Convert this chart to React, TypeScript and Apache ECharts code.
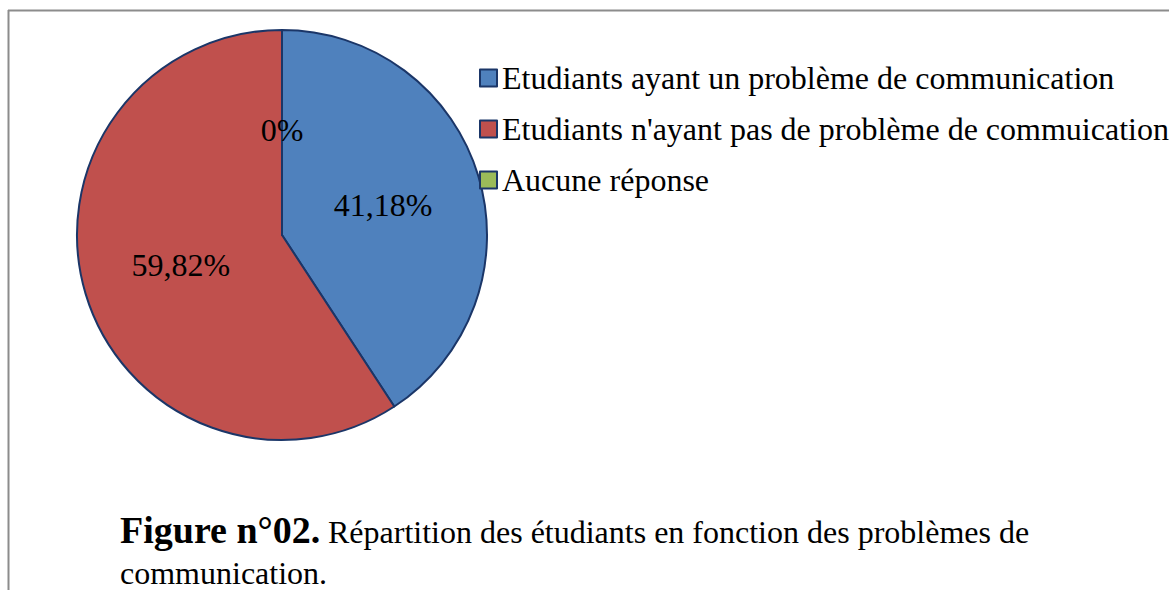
import React, { useEffect, useRef } from "react";
import * as echarts from "echarts";

const categories = [
  "Etudiants ayant un problème de communication",
  "Etudiants n'ayant pas de problème de commuication",
  "Aucune réponse",
];
const values = [41.18, 59.82, 0];
const colors = ["#4F81BD", "#C0504D", "#9BBB59"];
const captionBold = "Figure n°02.";
const captionLine1 = "Répartition des étudiants en fonction des problèmes de";
const captionLine2 = "communication.";

const FONT = "'Liberation Serif', 'Times New Roman', serif";

export default function App() {
  const ref = useRef<HTMLDivElement>(null);
  useEffect(() => {
    if (!ref.current) return;
    const chart = echarts.init(ref.current, null, { renderer: "svg" });
    chart.setOption({
      animation: false,
      backgroundColor: "#ffffff",
      legend: {
        orient: "vertical",
        left: 474,
        top: 57,
        itemWidth: 17,
        itemHeight: 17,
        itemGap: 19,
        icon: "rect",
        data: categories,
        textStyle: { fontFamily: FONT, fontSize: 32, color: "#000" },
      },
      series: [
        {
          type: "pie",
          center: [282, 235],
          radius: 205,
          startAngle: 90,
          clockwise: true,
          avoidLabelOverlap: false,
          data: categories.map((name, i) => ({
            name,
            value: values[i],
            itemStyle: { color: colors[i] },
          })),
          itemStyle: { borderColor: "#1B3668", borderWidth: 2 },
          label: {
            show: true,
            position: "inside",
            fontFamily: FONT,
            fontSize: 32,
            color: "#000",
            formatter: (p: any) => String(p.value).replace(".", ",") + "%",
          },
          labelLine: { show: false },
          emphasis: { disabled: true },
        },
      ],
      graphic: [
        { type: "line", shape: { x1: 8, y1: 10.5, x2: 1169, y2: 10.5 }, style: { stroke: "#8c8c8c", lineWidth: 2 } },
        { type: "line", shape: { x1: 8.5, y1: 10, x2: 8.5, y2: 590 }, style: { stroke: "#8c8c8c", lineWidth: 2 } },
        {
          type: "text",
          x: 120,
          y: 530,
          style: {
            text: captionBold,
            fontFamily: FONT,
            fontSize: 38,
            fontWeight: "bold",
            fill: "#000",
            verticalAlign: "middle",
          },
        },
        {
          type: "text",
          x: 328,
          y: 532,
          style: {
            text: captionLine1,
            fontFamily: FONT,
            fontSize: 32,
            fill: "#000",
            verticalAlign: "middle",
          },
        },
        {
          type: "text",
          x: 120,
          y: 573,
          style: {
            text: captionLine2,
            fontFamily: FONT,
            fontSize: 32,
            fill: "#000",
            verticalAlign: "middle",
          },
        },
      ],
    });
    return () => chart.dispose();
  }, []);
  return (
    <div
      ref={ref}
      style={{ position: "fixed", left: 0, top: 0, width: 1169, height: 590 }}
    />
  );
}
